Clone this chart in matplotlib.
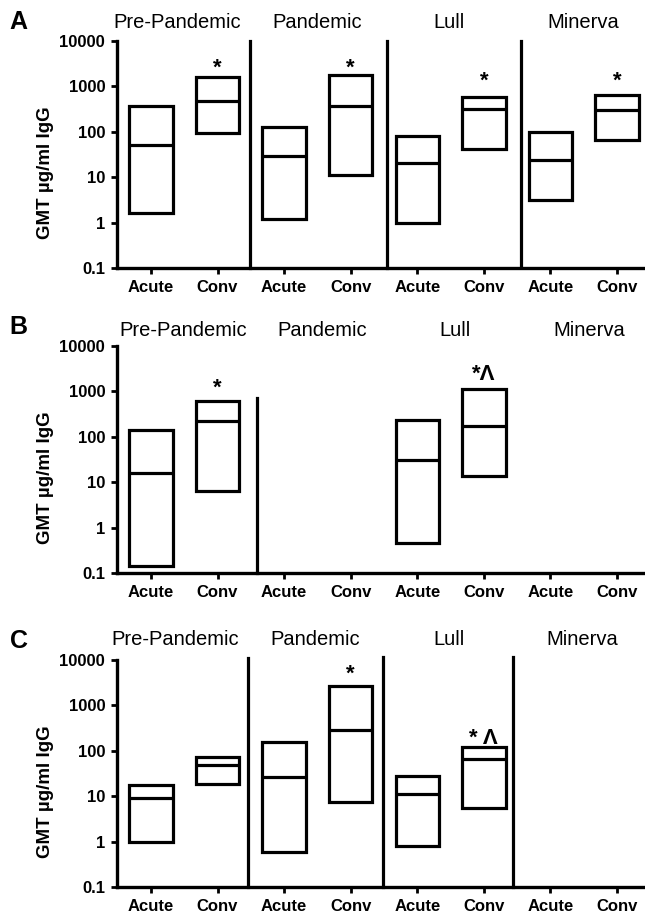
import numpy as np
import matplotlib.pyplot as plt

plt.rcParams['font.family'] = ['Liberation Sans', 'DejaVu Sans']

# categories along the x axis
categories = ['Acute', 'Conv'] * 4
periods = ['Pre-Pandemic', 'Pandemic', 'Lull', 'Minerva']
nan = np.nan

# panel A
a_low = [1.6, 92, 1.17, 11.2, 1.0, 42, 3.2, 67]
a_mid = [52, 481, 29, 367, 20, 316, 24, 305]
a_high = [367, 1620, 129, 1790, 82, 580, 100, 641]
a_marks = ['', '*', '', '*', '', '*', '', '*']
a_mark_y = [nan, 2500, nan, 2500, nan, 1300, nan, 1300]

# panel B
b_low = [0.145, 6.25, nan, nan, 0.46, 13.8, nan, nan]
b_mid = [15.8, 220, nan, nan, 31, 168, nan, nan]
b_high = [142, 617, nan, nan, 232, 1096, nan, nan]
b_marks = ['', '*', '', '', '', '*Λ', '', '']
b_mark_y = [nan, 1150, nan, nan, nan, 2300, nan, nan]

# panel C
c_low = [1.0, 18.7, 0.59, 7.6, 0.79, 5.5, nan, nan]
c_mid = [9.3, 48, 26.7, 286, 11, 65, nan, nan]
c_high = [18, 74, 155, 2716, 28, 122, nan, nan]
c_marks = ['', '', '', '*', '', '* Λ', '', '']
c_mark_y = [nan, nan, nan, 4800, nan, 185, nan, nan]

panels = [
    dict(letter='A', low=a_low, mid=a_mid, high=a_high, marks=a_marks, mark_y=a_mark_y,
         seps=[(1.48, 0.1, 10000), (3.55, 0.1, 10000), (5.56, 0.11, 10000)],
         label_x=[0.4, 2.5, 4.48, 6.5], label_y=1.079, bottom=0.7068),
    dict(letter='B', low=b_low, mid=b_mid, high=b_high, marks=b_marks, mark_y=b_mark_y,
         seps=[(1.6, 0.1, 700)],
         label_x=[0.48, 2.57, 4.56, 6.58], label_y=1.066, bottom=0.3731),
    dict(letter='C', low=c_low, mid=c_mid, high=c_high, marks=c_marks, mark_y=c_mark_y,
         seps=[(1.46, 0.1, 11000), (3.48, 0.1, 11500), (5.44, 0.1, 11500)],
         label_x=[0.37, 2.47, 4.47, 6.48], label_y=1.092, bottom=0.0295),
]

fig = plt.figure(figsize=(6.45, 9.14), dpi=100)
x = np.arange(len(categories))
ax_h = 0.2485

for p in panels:
    ax = fig.add_axes([0.1814, p['bottom'], 0.8186, ax_h])
    low = np.array(p['low'], dtype=float)
    high = np.array(p['high'], dtype=float)
    mid = np.array(p['mid'], dtype=float)
    ok = ~np.isnan(low)

    # floating boxes with a line at the GMT
    ax.bar(x[ok], high[ok] - low[ok], bottom=low[ok], width=0.65,
           fill=False, edgecolor='black', linewidth=2.3)
    ax.hlines(mid[ok], x[ok] - 0.325, x[ok] + 0.325, color='black', linewidth=2.3)

    for xi, m, my in zip(x, p['marks'], p['mark_y']):
        if m:
            ax.text(xi, my, m, ha='center', va='center', fontsize=16, fontweight='bold')

    for sx, y0, y1 in p['seps']:
        ax.plot([sx, sx], [y0, y1], color='black', linewidth=2.3, clip_on=False)

    for lx, name in zip(p['label_x'], periods):
        ax.text(lx, p['label_y'], name, transform=ax.get_xaxis_transform(),
                ha='center', va='center', fontsize=14.5)

    ax.set_yscale('log')
    ax.set_ylim(0.1, 10000)
    ax.set_xlim(-0.51, 7.42)
    ax.set_yticks([0.1, 1, 10, 100, 1000, 10000])
    ax.set_yticklabels(['0.1', '1', '10', '100', '1000', '10000'], fontweight='bold', fontsize=12)
    ax.minorticks_off()
    ax.set_xticks(x)
    ax.set_xticklabels(categories, fontweight='bold', fontsize=12)
    ax.tick_params(axis='both', width=2, length=4.5, pad=4)
    ax.set_ylabel('GMT µg/ml IgG', fontweight='bold', fontsize=13.5)
    ax.yaxis.set_label_coords(-0.12, 0.42)
    for s in ['top', 'right']:
        ax.spines[s].set_visible(False)
    for s in ['left', 'bottom']:
        ax.spines[s].set_linewidth(2.4)

    fig.text(0.029, p['bottom'] + ax_h + 0.0205, p['letter'], fontsize=18,
             fontweight='bold', ha='center', va='center')

fig.savefig('out.png', dpi=100)
